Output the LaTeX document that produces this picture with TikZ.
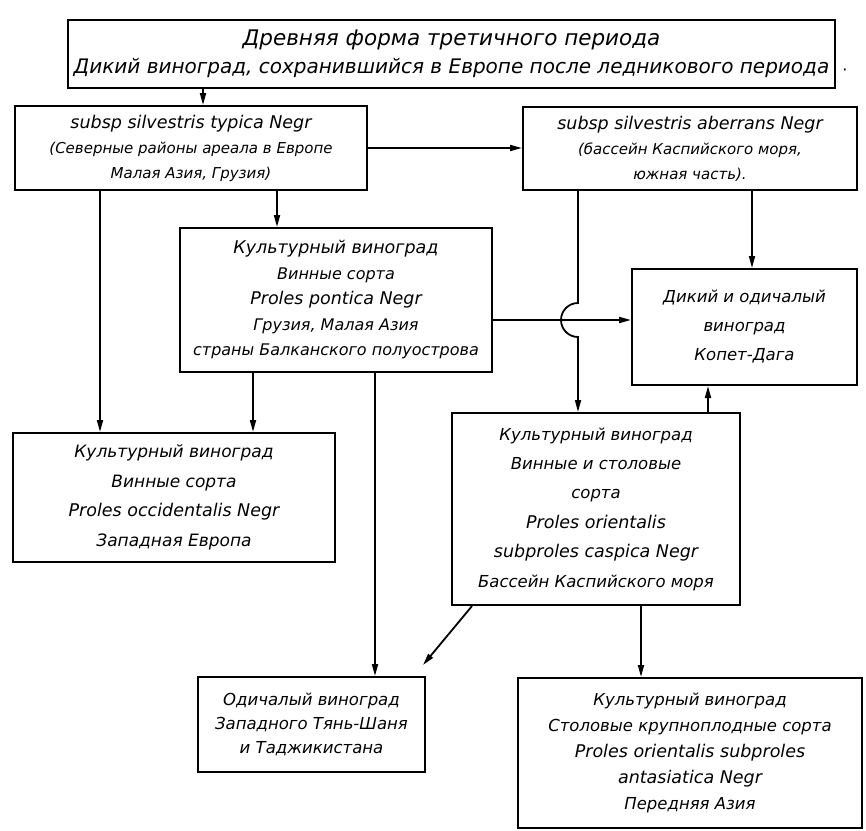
\documentclass[tikz,border=0pt]{standalone}
\usepackage{fontspec}
\setmainfont{DejaVu Sans}
\usetikzlibrary{arrows.meta}
\newcommand\latline[1]{{\fontsize{17.5}{20}\selectfont #1}}
\begin{document}
\begin{tikzpicture}[x=1pt,y=-1pt,
  bx/.style={draw, line width=2pt, inner sep=2pt, align=center, font=\fontsize{16.5}{27}\selectfont\itshape},
  arr/.style={line width=1.8pt, -{Triangle[length=12pt,width=6pt]}}]
\useasboundingbox (0,0) rectangle (866,830);
\fill[white] (0,0) rectangle (866,830);

\node[bx, minimum width=767pt, minimum height=68pt, font=\fontsize{20}{28}\selectfont\itshape] (T) at (451.5,54)
  {{\fontsize{21.5}{24}\selectfont Древняя форма третичного периода}\\Дикий виноград, сохранившийся в Европе после ледникового периода};
\node[font=\fontsize{16}{16}\selectfont, inner sep=0pt] (dot) at (845,72) {·};

\node[bx, minimum width=352pt, minimum height=84pt, font=\fontsize{15}{25}\selectfont\itshape] (A) at (191,148)
  {\latline{subsp silvestris typica Negr}\\(Северные районы ареала в Европе\\Малая Азия, Грузия)};
\node[bx, minimum width=334pt, minimum height=83pt, font=\fontsize{15}{25}\selectfont\itshape] (B) at (690,148.5)
  {\latline{subsp silvestris aberrans Negr}\\(бассейн Каспийского моря,\\южная часть).};
\node[bx, minimum width=312pt, minimum height=144pt, font=\fontsize{16}{25.5}\selectfont\itshape] (C) at (336,300)
  {{\fontsize{17.5}{20}\selectfont Культурный виноград}\\Винные сорта\\\latline{Proles pontica Negr}\\Грузия, Малая Азия\\страны Балканского полуострова};
\node[bx, minimum width=322pt, minimum height=129pt, font=\fontsize{17}{29.5}\selectfont\itshape] (D) at (174,497.5)
  {Культурный виноград\\Винные сорта\\\latline{Proles occidentalis Negr}\\Западная Европа};
\node[bx, minimum width=225pt, minimum height=116pt, font=\fontsize{16.5}{29}\selectfont\itshape] (E) at (744.5,327)
  {Дикий и одичалый\\виноград\\Копет-Дага};
\node[bx, minimum width=288pt, minimum height=192pt, font=\fontsize{16.5}{29.4}\selectfont\itshape] (F) at (596,509)
  {Культурный виноград\\Винные и столовые\\сорта\\\latline{Proles orientalis}\\\latline{subproles caspica Negr}\\Бассейн Каспийского моря};
\node[bx, minimum width=227pt, minimum height=95pt, font=\fontsize{16.5}{24}\selectfont\itshape] (G) at (311.5,724.5)
  {Одичалый виноград\\Западного Тянь-Шаня\\и Таджикистана};
\node[bx, minimum width=344pt, minimum height=150pt, font=\fontsize{16.5}{26}\selectfont\itshape] (H) at (690,753)
  {Культурный виноград\\Столовые крупноплодные сорта\\\latline{Proles orientalis subproles}\\\latline{antasiatica Negr}\\Передняя Азия};

\coordinate (x100) at (100,0);
\coordinate (x203) at (203,0);
\coordinate (x253) at (253,0);
\coordinate (x277) at (277,0);
\coordinate (x375) at (375,0);
\coordinate (x472) at (472,0);
\coordinate (x578) at (578,0);
\coordinate (x641) at (641,0);
\coordinate (x708) at (708,0);
\coordinate (x752) at (752,0);
\coordinate (h148) at (0,148);
\coordinate (h320) at (0,320);
\coordinate (j1) at (578,303);
\coordinate (g1) at (423,665);

\draw[arr] (T.south -| x203) -- (A.north -| x203);
\draw[arr] (A.east |- h148) -- (B.west |- h148);
\draw[arr] (A.south -| x277) -- (C.north -| x277);
\draw[arr] (A.south -| x100) -- (D.north -| x100);
\draw[arr] (C.south -| x253) -- (D.north -| x253);
\draw[arr] (C.south -| x375) -- (G.north -| x375);
\draw[arr] (C.east |- h320) -- (E.west |- h320);
\draw[arr] (B.south -| x752) -- (E.north -| x752);
\draw[arr] (B.south -| x578) -- (j1) arc[start angle=270, end angle=90, radius=17] -- (F.north -| x578);
\draw[arr] (F.north -| x708) -- (E.south -| x708);
\draw[arr] (F.south -| x472) -- (g1);
\draw[arr] (F.south -| x641) -- (H.north -| x641);
\end{tikzpicture}
\end{document}
